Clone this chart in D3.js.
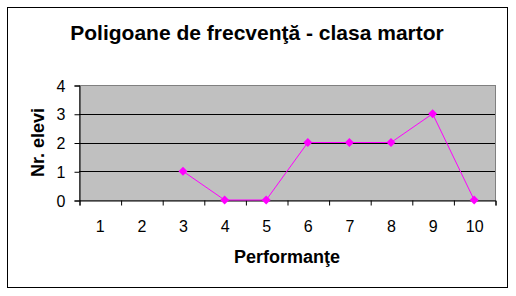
<!DOCTYPE html>
<html>
<head>
<meta charset="utf-8">
<script src="https://cdn.jsdelivr.net/npm/d3@7"></script>
<style>
  body { margin: 0; background: #fff; }
  svg text { font-family: "Liberation Sans", Arial, sans-serif; fill: #000; }
</style>
</head>
<body>
<div id="chart"></div>
<script>
// categories (performance marks) and counts; null = no point
const categories = [1, 2, 3, 4, 5, 6, 7, 8, 9, 10];
const counts = [null, null, 1, 0, 0, 2, 2, 2, 3, 0];
const yTicks = [0, 1, 2, 3, 4];

const W = 516, H = 296;
const plot = { left: 79, right: 495, top: 85, bottom: 200 };

const svg = d3.select('#chart')
    .append('svg')
    .attr('width', W)
    .attr('height', H);

// outer frame
svg.append('rect')
    .attr('x', 7.5).attr('y', 7.5)
    .attr('width', 500).attr('height', 280)
    .attr('fill', '#fff')
    .attr('stroke', '#000');

svg.append('text')
    .attr('x', 257).attr('y', 40)
    .attr('text-anchor', 'middle')
    .style('font-size', '21px')
    .style('font-weight', 'bold')
    .text('Poligoane de frecvenţă - clasa martor');

const x = d3.scaleLinear()
    .domain([0.5, 10.5])
    .range([plot.left, plot.right]);

const y = d3.scaleLinear()
    .domain([0, 4])
    .range([plot.bottom, plot.top]);

// plot background
svg.append('rect')
    .attr('x', plot.left + 0.5).attr('y', plot.top + 0.5)
    .attr('width', plot.right - plot.left)
    .attr('height', plot.bottom - plot.top)
    .attr('fill', '#c0c0c0')
    .attr('stroke', '#808080');

// gridlines
svg.append('g')
    .selectAll('line')
    .data(yTicks.filter(d => d > 0 && d < 4))
    .enter()
    .append('line')
    .attr('x1', plot.left).attr('x2', plot.right)
    .attr('y1', d => Math.round(y(d)) + 0.5)
    .attr('y2', d => Math.round(y(d)) + 0.5)
    .attr('stroke', '#000');

// y axis
const yAxis = svg.append('g')
    .attr('transform', 'translate(' + (plot.left + 0.5) + ',0.5)')
    .call(d3.axisLeft(y).tickValues(yTicks).tickSize(5).tickPadding(9).tickFormat(d3.format('d')));
yAxis.select('.domain').attr('stroke', '#000');
yAxis.selectAll('text').style('font-size', '16px').attr('dy', '0.35em');

// x axis: tick marks at category boundaries, labels at centres
const xTickAxis = svg.append('g')
    .attr('transform', 'translate(0.5,' + (plot.bottom + 0.5) + ')')
    .call(d3.axisBottom(x).tickValues(d3.range(0.5, 11, 1)).tickSize(5).tickFormat(''));
xTickAxis.select('.domain').attr('stroke', '#000');

const xLabelAxis = svg.append('g')
    .attr('transform', 'translate(0,' + (plot.bottom + 0.5) + ')')
    .call(d3.axisBottom(x).tickValues(categories).tickSize(0).tickPadding(20));
xLabelAxis.select('.domain').remove();
xLabelAxis.selectAll('text').style('font-size', '16px');

// axis titles
svg.append('text')
    .attr('transform', 'translate(44,' + ((plot.top + plot.bottom) / 2) + ') rotate(-90)')
    .attr('text-anchor', 'middle')
    .style('font-size', '18px')
    .style('font-weight', 'bold')
    .text('Nr. elevi');

svg.append('text')
    .attr('x', (plot.left + plot.right) / 2)
    .attr('y', 263)
    .attr('text-anchor', 'middle')
    .style('font-size', '18px')
    .style('font-weight', 'bold')
    .text('Performanţe');

// series
const pts = categories.map((c, i) => ({ c: c, v: counts[i] }));

const line = d3.line()
    .defined(d => d.v !== null)
    .x(d => x(d.c))
    .y(d => y(d.v));

svg.append('path')
    .datum(pts)
    .attr('d', line)
    .attr('fill', 'none')
    .attr('stroke', '#ff00ff')
    .attr('stroke-width', 1);

svg.append('g')
    .selectAll('path')
    .data(pts.filter(d => d.v !== null))
    .enter()
    .append('path')
    .attr('transform', d => 'translate(' + x(d.c) + ',' + y(d.v) + ')')
    .attr('d', 'M0,-4.5L4.5,0L0,4.5L-4.5,0Z')
    .attr('fill', '#ff00ff');
</script>
</body>
</html>
